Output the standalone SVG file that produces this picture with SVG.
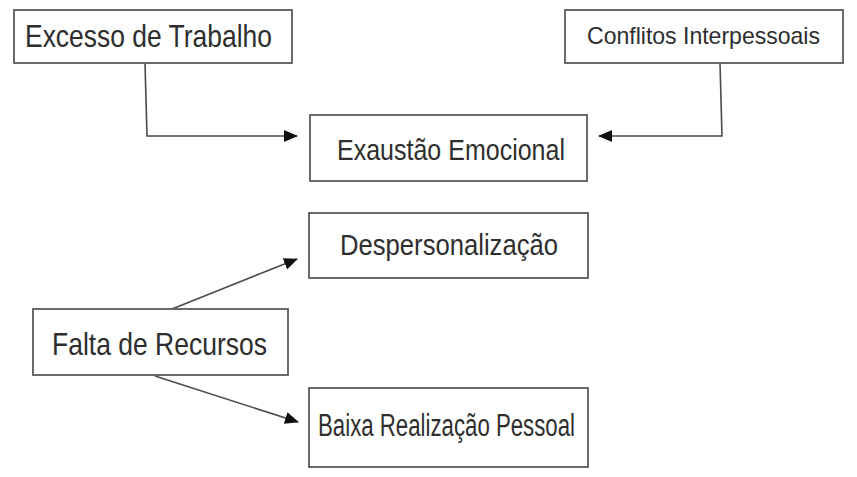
<svg xmlns="http://www.w3.org/2000/svg" width="857" height="477" viewBox="0 0 857 477">
<style>
.box{fill:#fff;stroke:#5a5a5a;stroke-width:1.8}
.lbl{font-family:"Liberation Sans",Arial,sans-serif;fill:#2e2e2e}
.con{fill:none;stroke:#4a4a4a;stroke-width:1.6}
</style>
<defs>
<marker id="ah" viewBox="0 0 14 12" refX="13" refY="6" markerWidth="14" markerHeight="12" markerUnits="userSpaceOnUse" orient="auto">
<path d="M0,0 L14,6 L0,12 Z" fill="#111"/>
</marker>
</defs>
<rect width="857" height="477" fill="#fff"/>
<g id="connectors">
<polyline class="con" points="145,63 147,136 297,136" marker-end="url(#ah)"/>
<polyline class="con" points="720,63 722,136 599,136" marker-end="url(#ah)"/>
<line class="con" x1="172" y1="309" x2="297" y2="259" marker-end="url(#ah)"/>
<line class="con" x1="155" y1="376" x2="298" y2="422" marker-end="url(#ah)"/>
</g>
<g id="excesso">
<rect class="box" x="14" y="10" width="278" height="53"/>
<text class="lbl" x="25" y="47" font-size="32" textLength="247" lengthAdjust="spacingAndGlyphs">Excesso de Trabalho</text>
</g>
<g id="conflitos">
<rect class="box" x="565" y="10" width="278" height="53"/>
<text class="lbl" x="587" y="44" font-size="24" textLength="233" lengthAdjust="spacingAndGlyphs">Conflitos Interpessoais</text>
</g>
<g id="exaustao">
<rect class="box" x="310" y="115" width="277" height="66"/>
<text class="lbl" x="337" y="160" font-size="29" textLength="228" lengthAdjust="spacingAndGlyphs">Exaustão Emocional</text>
</g>
<g id="despersonalizacao">
<rect class="box" x="309" y="213" width="279" height="65"/>
<text class="lbl" x="340" y="255" font-size="30" textLength="218" lengthAdjust="spacingAndGlyphs">Despersonalização</text>
</g>
<g id="falta">
<rect class="box" x="33" y="309" width="255" height="66"/>
<text class="lbl" x="52" y="355" font-size="32" textLength="215" lengthAdjust="spacingAndGlyphs">Falta de Recursos</text>
</g>
<g id="baixa">
<rect class="box" x="309" y="388" width="279" height="79"/>
<text class="lbl" x="318" y="436" font-size="31" textLength="257" lengthAdjust="spacingAndGlyphs">Baixa Realização Pessoal</text>
</g>
</svg>
